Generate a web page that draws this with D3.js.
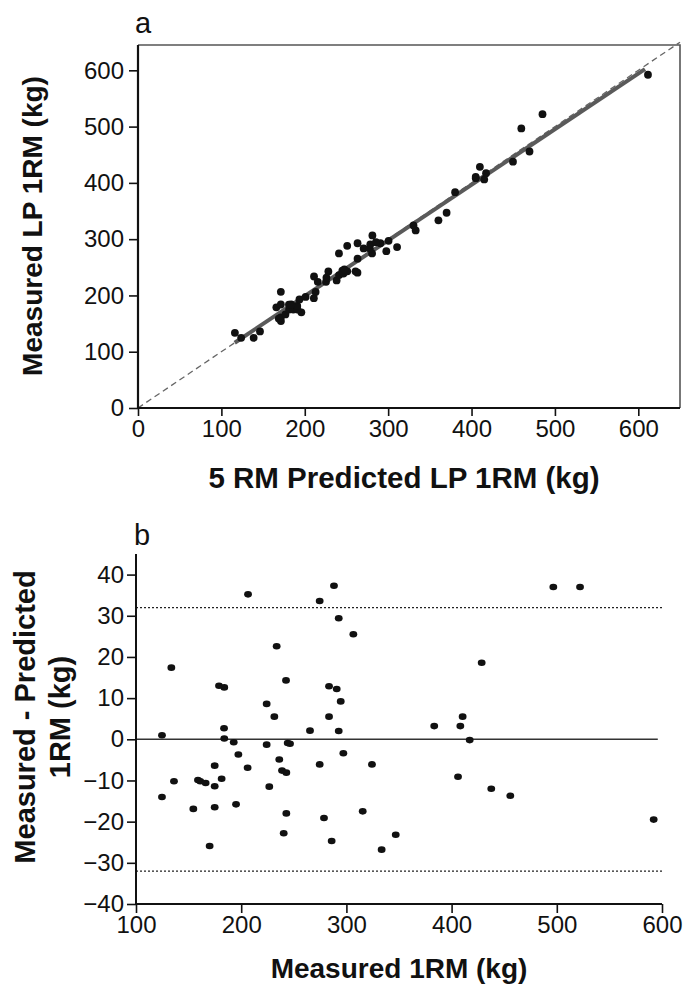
<!DOCTYPE html>
<html>
<head>
<meta charset="utf-8">
<script src="https://cdn.jsdelivr.net/npm/d3@7"></script>
<style>
  body { margin: 0; background: #fff; }
  svg { display: block; }
  text { font-family: "Liberation Sans", Arial, sans-serif; fill: #111; }
  .tick text { font-size: 24px; }
  .title { font-size: 28px; font-weight: bold; }
  .panel { font-size: 29px; }
</style>
</head>
<body>
<svg id="chart" width="685" height="988"></svg>
<script>
// measured 1RM (kg) and measured - predicted (kg), one entry per subject
const measured = [124.7, 124.7, 133.6, 136.1, 154.5, 158.9, 161.1, 166.2, 170.0, 174.8,
  174.8, 174.8, 178.9, 181.4, 183.9, 183.7, 183.9, 192.9, 195.1, 197.3,
  206.1, 206.5, 224.2, 224.2, 226.7, 231.5, 233.7, 236.2, 238.8, 240.4,
  242.6, 242.9, 242.9, 244.2, 246.4, 265.4, 274.6, 274.6, 278.7, 283.5,
  283.5, 286.0, 288.2, 290.8, 292.7, 292.7, 294.6, 297.1, 306.6, 315.5,
  324.3, 333.5, 346.9, 383.5, 406.1, 408.3, 410.5, 417.2, 428.6, 437.7,
  455.8, 496.7, 522.1, 592.1];
const difference = [1.0, -14.0, 17.4, -10.2, -16.9, -9.9, -10.2, -10.6, -25.9, -6.4,
  -11.4, -16.5, 13.0, -9.6, 12.6, 2.7, 0.2, -0.7, -15.8, -3.7,
  -6.9, 35.2, 8.6, -1.3, -11.5, 5.5, 22.6, -4.9, -7.6, -22.8,
  14.3, -8.1, -18.0, -0.9, -1.1, 2.1, 33.6, -6.1, -19.1, 12.9,
  5.5, -24.7, 37.3, 12.2, 29.4, 2.0, 9.2, -3.4, 25.5, -17.5,
  -6.1, -26.8, -23.2, 3.2, -9.1, 3.2, 5.5, -0.2, 18.6, -12.0,
  -13.7, 37.0, 37.0, -19.5];
// 5RM predicted 1RM (kg)
const predicted = [123.7, 138.7, 116.2, 146.3, 171.4, 168.8, 171.3, 176.8, 195.9, 181.2,
  186.2, 191.3, 165.9, 191.0, 171.3, 181.0, 183.7, 193.6, 210.9, 201.0,
  213.0, 171.3, 215.6, 225.5, 238.2, 226.0, 211.1, 241.1, 246.4, 263.2,
  228.3, 251.0, 260.9, 245.1, 247.5, 263.3, 241.0, 280.7, 297.8, 270.6,
  278.0, 310.7, 250.9, 278.6, 263.3, 290.7, 285.4, 300.5, 281.1, 333.0,
  330.4, 360.3, 370.1, 380.3, 415.2, 405.1, 405.0, 417.4, 410.0, 449.7,
  469.5, 459.7, 485.1, 611.6];

const identityLine = [[0, 0], [650, 650]];
const fitLine = [[116, 116], [608, 602]];
const aTicks = [0, 100, 200, 300, 400, 500, 600];

const limitsOfAgreement = [-32, 32];
const biasLine = [0];
const bXTicks = [100, 200, 300, 400, 500, 600];
const bYTicks = [-40, -30, -20, -10, 0, 10, 20, 30, 40];

const svg = d3.select('#chart');

// ---- panel a ----
const xa = d3.scaleLinear().domain([0, 650]).range([138, 680]);
const ya = d3.scaleLinear().domain([0, 645]).range([408, 45]);

const a = svg.append('g');

// frame (top / right)
a.append('path')
  .attr('d', `M${xa(0)},${ya(645)} H${xa(650)} V${ya(0)}`)
  .attr('fill', 'none').attr('stroke', '#555').attr('stroke-width', 1.6);

const line = d3.line().x(d => xa(d[0])).y(d => ya(d[1]));

a.append('path').datum(identityLine)
  .attr('d', line)
  .attr('fill', 'none').attr('stroke', '#666').attr('stroke-width', 1.3)
  .attr('stroke-dasharray', '6,4');

a.append('path').datum(fitLine)
  .attr('d', line)
  .attr('fill', 'none').attr('stroke', '#5a5a5a').attr('stroke-width', 4);

a.selectAll('circle.pt').data(predicted)
  .join('circle')
  .attr('class', 'pt')
  .attr('cx', d => xa(d))
  .attr('cy', (d, i) => ya(measured[i]))
  .attr('r', 3.9)
  .attr('fill', '#111');

const axA = a.append('g').attr('transform', `translate(${xa(0)},0)`)
  .call(d3.axisLeft(ya).tickValues(aTicks).tickSize(9).tickPadding(5));
const axAx = a.append('g').attr('transform', `translate(0,${ya(0)})`)
  .call(d3.axisBottom(xa).tickValues(aTicks).tickSize(8).tickPadding(4));
[axA, axAx].forEach(g => {
  g.select('.domain').attr('stroke', '#111').attr('stroke-width', 2.2);
  g.selectAll('.tick line').attr('stroke', '#111').attr('stroke-width', 1.6);
  g.selectAll('.tick text').attr('font-size', 24).attr('font-family', null);
});
axAx.select('.domain').attr('d', `M${xa(0)},0H${xa(650)}`);
axA.select('.domain').attr('d', `M0,${ya(0)}V${ya(645)}`);

a.append('text').attr('class', 'panel').attr('x', 135).attr('y', 33).text('a');
a.append('text').attr('class', 'title')
  .attr('x', 404).attr('y', 488).attr('text-anchor', 'middle')
  .style('font-size', '29.5px')
  .text('5 RM Predicted LP 1RM (kg)');
a.append('text').attr('class', 'title')
  .attr('transform', 'translate(42,226) rotate(-90)')
  .attr('text-anchor', 'middle')
  .text('Measured LP 1RM (kg)');

// ---- panel b ----
const xb = d3.scaleLinear().domain([100, 600]).range([136, 662]);
const yb = d3.scaleLinear().domain([-40, 45]).range([904, 554]);

const b = svg.append('g');

b.selectAll('line.loa').data(limitsOfAgreement)
  .join('line')
  .attr('class', 'loa')
  .attr('x1', xb(100)).attr('x2', xb(601))
  .attr('y1', d => yb(d)).attr('y2', d => yb(d))
  .attr('stroke', '#222').attr('stroke-width', 1.3)
  .attr('stroke-dasharray', '2,2');

b.selectAll('line.bias').data(biasLine)
  .join('line')
  .attr('class', 'bias')
  .attr('x1', xb(100)).attr('x2', xb(596))
  .attr('y1', d => yb(d)).attr('y2', d => yb(d))
  .attr('stroke', '#333').attr('stroke-width', 1.5);

b.selectAll('ellipse.pt').data(measured)
  .join('ellipse')
  .attr('class', 'pt')
  .attr('cx', d => xb(d))
  .attr('cy', (d, i) => yb(difference[i]))
  .attr('rx', 3.9).attr('ry', 3.3)
  .attr('fill', '#111');

const axB = b.append('g').attr('transform', `translate(${xb(100)},0)`)
  .call(d3.axisLeft(yb).tickValues(bYTicks).tickSize(9).tickPadding(3));
const axBx = b.append('g').attr('transform', `translate(0,${yb(-40)})`)
  .call(d3.axisBottom(xb).tickValues(bXTicks).tickSize(9).tickPadding(3));
[axB, axBx].forEach(g => {
  g.select('.domain').attr('stroke', '#111').attr('stroke-width', 2);
  g.selectAll('.tick line').attr('stroke', '#111').attr('stroke-width', 1.6);
  g.selectAll('.tick text').attr('font-size', 24).attr('font-family', null);
});
axB.select('.domain').attr('d', `M0,${yb(-40)}V${yb(45)}`);
axBx.select('.domain').attr('d', `M${xb(100)},0H${xb(600)}`);

b.append('text').attr('class', 'panel').attr('x', 134).attr('y', 545).text('b');
b.append('text').attr('class', 'title')
  .attr('x', 399).attr('y', 978).attr('text-anchor', 'middle')
  .text('Measured 1RM (kg)');
const yTitle = b.append('text').attr('class', 'title')
  .attr('transform', 'translate(0,717) rotate(-90)')
  .attr('text-anchor', 'middle')
  .style('font-size', '29px');
yTitle.append('tspan').attr('x', 0).attr('y', 35).text('Measured - Predicted');
yTitle.append('tspan').attr('x', 0).attr('y', 70).text('1RM (kg)');
</script>
</body>
</html>
